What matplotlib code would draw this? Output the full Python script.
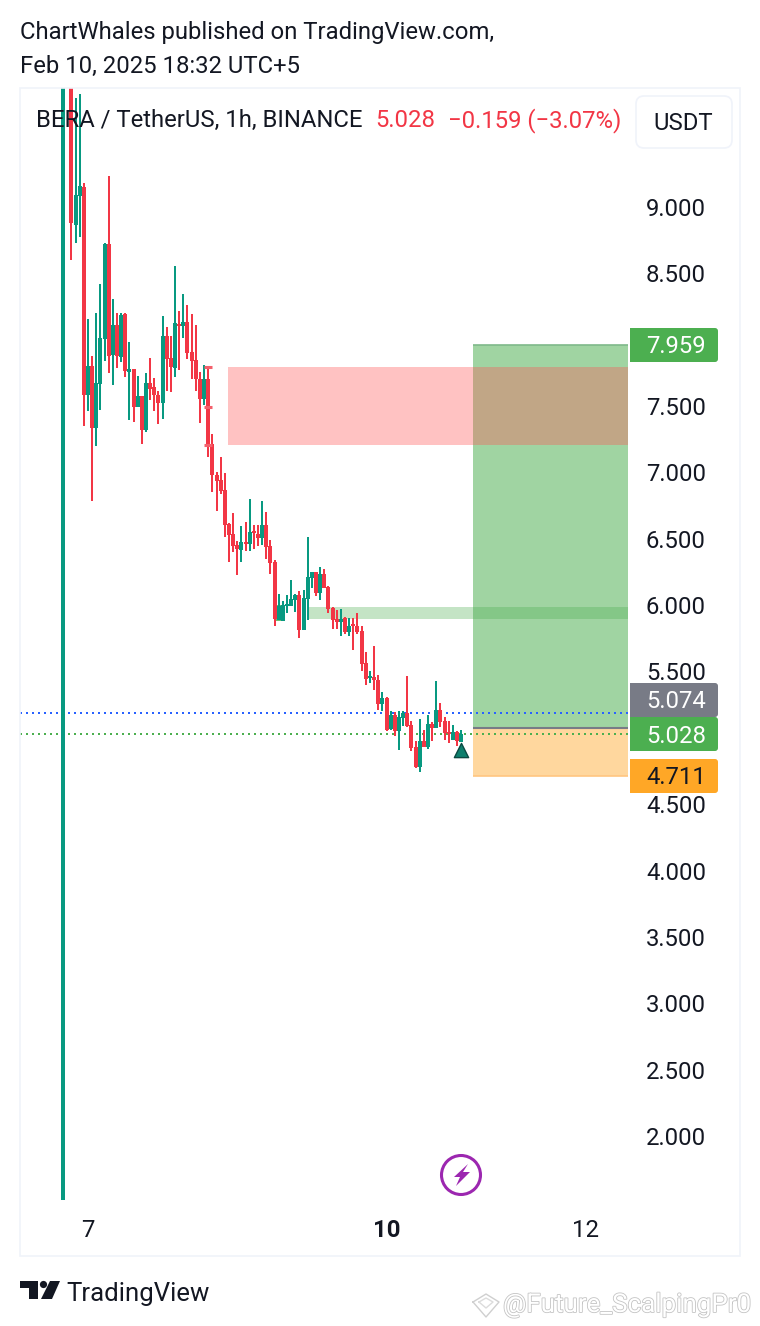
import numpy as np
import matplotlib
matplotlib.use("Agg")
import matplotlib.pyplot as plt
from matplotlib.patches import Rectangle, FancyBboxPatch, Polygon, Circle
import matplotlib.patheffects as pe

plt.rcParams['font.family'] = ['Roboto', 'DejaVu Sans']

nan = float('nan')

# 1h candles, hours counted from Feb 7 00:00
hours = list(range(-6, 91))
opens = [1.52, nan, 10.9, 8.864, 9.083, 9.151, 7.583, 7.802, 7.335, 7.666,
         8.005, 8.721, 7.885, 8.111, 7.870, 8.194, 7.757, 7.779, 7.493, 7.576,
         7.320, 7.674, 7.644, 7.583, 7.523, 8.028, 7.862, 7.787, 8.118, 8.103,
         8.133, 7.907, 7.847, 7.704, 7.553, 7.704, 7.214, 6.980, 6.943, 6.867,
         6.611, 6.536, 6.453, 6.415, 6.476, 6.460, 6.558, 6.536, 6.506, 6.604,
         6.445, 6.325, 5.888, 5.880, 5.993, 5.993, 6.038, 6.076, 5.812, 6.046,
         6.204, 6.249, 6.091, 6.234, 6.136, 5.978, 5.895, 5.873, 5.903, 5.797,
         5.858, 5.842, 5.805, 5.564, 5.451, 5.458, 5.436, 5.255, 5.300, 5.066,
         5.172, 5.051, 5.149, 5.187, 5.097, 4.931, 4.780, 4.976, 4.931, 5.104,
         5.074, 5.209, 5.127, 5.044, 4.983, 5.044, 4.968]
closes = [11.0, nan, 8.879, 9.090, 9.158, 7.583, 7.802, 7.335, 7.674, 8.013,
          8.721, 7.877, 8.111, 7.877, 8.186, 7.764, 7.779, 7.493, 7.576, 7.320,
          7.674, 7.629, 7.583, 7.523, 8.028, 7.855, 7.794, 8.126, 8.103, 8.133,
          7.900, 7.840, 7.704, 7.553, 7.704, 7.206, 6.980, 6.935, 6.860, 6.604,
          6.528, 6.445, 6.423, 6.476, 6.460, 6.551, 6.543, 6.506, 6.604, 6.438,
          6.317, 5.895, 5.993, 6.001, 6.008, 6.046, 6.076, 5.812, 6.053, 6.212,
          6.249, 6.091, 6.234, 6.129, 5.971, 5.888, 5.873, 5.895, 5.797, 5.842,
          5.842, 5.797, 5.556, 5.443, 5.466, 5.436, 5.255, 5.300, 5.059, 5.172,
          5.051, 5.157, 5.187, 5.089, 4.923, 4.780, 4.976, 4.931, 5.104, 5.074,
          5.209, 5.119, 5.036, 5.029, 5.044, 4.976, 5.029]
highs = [11.0, nan, 10.9, 9.821, 9.852, 9.181, 8.156, 7.877, 8.201, 8.420,
         8.729, 9.234, 8.307, 8.201, 8.201, 8.201, 7.983, 7.779, 7.726, 7.576,
         7.749, 7.862, 7.711, 7.613, 8.179, 8.096, 8.028, 8.555, 8.216, 8.344,
         8.262, 8.194, 8.111, 7.757, 7.809, 7.794, 7.289, 7.003, 7.116, 6.995,
         6.619, 6.694, 6.483, 6.596, 6.626, 6.800, 6.604, 6.604, 6.784, 6.702,
         6.491, 6.340, 6.084, 6.031, 6.076, 6.189, 6.084, 6.106, 6.114, 6.513,
         6.249, 6.249, 6.287, 6.272, 6.144, 5.986, 5.963, 5.971, 5.910, 5.903,
         5.903, 5.941, 5.842, 5.647, 5.503, 5.692, 5.473, 5.345, 5.307, 5.202,
         5.194, 5.202, 5.202, 5.466, 5.127, 4.976, 5.142, 5.059, 5.172, 5.119,
         5.428, 5.262, 5.157, 5.127, 5.097, 5.051, 5.059]
lows = [1.52, nan, 8.601, 8.729, 8.774, 7.350, 7.463, 6.784, 7.199, 7.470,
        7.840, 7.749, 7.659, 7.787, 7.832, 7.719, 7.395, 7.380, 7.493, 7.214,
        7.304, 7.546, 7.463, 7.365, 7.402, 7.613, 7.606, 7.719, 7.772, 8.013,
        7.855, 7.704, 7.613, 7.372, 7.508, 7.116, 6.852, 6.709, 6.837, 6.513,
        6.325, 6.400, 6.227, 6.325, 6.408, 6.408, 6.423, 6.445, 6.453, 6.347,
        6.234, 5.842, 5.888, 5.880, 5.941, 5.993, 5.948, 5.752, 5.812, 5.888,
        6.129, 6.069, 6.038, 6.129, 5.941, 5.820, 5.820, 5.767, 5.782, 5.767,
        5.662, 5.782, 5.503, 5.398, 5.413, 5.360, 5.209, 5.202, 5.051, 5.059,
        5.014, 4.908, 5.089, 5.081, 4.900, 4.772, 4.742, 4.931, 4.916, 4.976,
        5.074, 5.081, 4.983, 4.961, 4.983, 4.938, 4.968]

# 5.000 and 8.000 are hidden behind the price labels
price_ticks = [2.0, 2.5, 3.0, 3.5, 4.0, 4.5, 5.5, 6.0, 6.5, 7.0, 7.5, 8.5, 9.0]
time_ticks = [0, 72, 120]
time_labels = ['7', '10', '12']

# drawings on the chart
long_start, long_end = 92.9, 130.2
long_entry, long_target, long_stop = 5.074, 7.959, 4.711
zone_red = (33.8, 130.2, 7.206, 7.794)
zone_green = (53.1, 130.2, 5.895, 5.986)
last_price = 5.028
alert_price = 5.187
short_stubs = [7.794, 7.493, 7.206]

GREEN = '#089981'
RED = '#f23645'
TEXT = '#131722'

fig = plt.figure(figsize=(7.6, 13.26), dpi=100, facecolor='white')

ax = fig.add_axes([20 / 760, 1 - 1200 / 1326, 610 / 760, 1112 / 1326])
ax.set_xlim(-16.4, 130.73)
ax.set_ylim(1.517, 9.897)
for s in ax.spines.values():
    s.set_visible(False)

# long position
ax.add_patch(Rectangle((long_start, long_entry), long_end - long_start, long_target - long_entry,
                       fc='#4caf50', alpha=0.53, lw=0, zorder=1))
ax.add_patch(Rectangle((long_start, long_stop), long_end - long_start, long_entry - long_stop,
                       fc='#ff9800', alpha=0.38, lw=0, zorder=1))
ax.hlines(long_target, long_start, long_end, color='#7fb98a', lw=1.2, zorder=1.5)
ax.hlines(long_stop, long_start, long_end, color='#ffc680', lw=1.2, zorder=1.5)
ax.hlines(long_entry, long_start, long_end, color='#787b86', lw=1.5, zorder=1.5)

# zones
ax.add_patch(Rectangle((zone_red[0], zone_red[2]), zone_red[1] - zone_red[0], zone_red[3] - zone_red[2],
                       fc='#ff5252', alpha=0.35, lw=0, zorder=2))
ax.add_patch(Rectangle((zone_green[0], zone_green[2]), zone_green[1] - zone_green[0], zone_green[3] - zone_green[2],
                       fc='#4caf50', alpha=0.33, lw=0, zorder=2))
ax.hlines([5.888, 5.993], 45.4, 47.2, color='#66bb6a', lw=1.4, zorder=2)
ax.hlines(short_stubs, 28.0, 30.0, color='#f4606c', lw=2.2, zorder=5)

# price lines
ax.axhline(alert_price, color='#2962ff', lw=1.44, ls=(0, (1, 2)), zorder=3)
ax.axhline(last_price, color='#4caf50', lw=1.44, ls=(0, (1, 2)), zorder=3)

# candles
o = np.array(opens)
c = np.array(closes)
colors = [GREEN if b >= a else RED for a, b in zip(o, c)]
ax.vlines(hours, lows, highs, colors=colors, lw=1.44, antialiased=False, zorder=4)
ax.bar(hours, np.abs(c - o), bottom=np.minimum(o, c), width=0.965, color=colors, lw=0,
       antialiased=False, zorder=4)

# signal marker
ax.scatter([90], [4.905], marker='^', s=105, c='#0d7f6d', edgecolors='#0a4a42', linewidths=1, zorder=6)

ax.set_yticks(price_ticks)
ax.set_yticklabels(['%.3f' % p for p in price_ticks])
ax.yaxis.tick_right()
ax.tick_params(axis='y', length=0, pad=11.5, labelsize=17.2, labelcolor=TEXT)
ax.set_xticks(time_ticks)
ax.set_xticklabels(time_labels)
ax.tick_params(axis='x', length=0, pad=14, labelsize=17.2, labelcolor=TEXT)
ax.get_xticklabels()[1].set_fontweight('bold')

# overlay in pixel units for frame, header, labels and logos
ov = fig.add_axes([0, 0, 1, 1], zorder=10)
ov.set_xlim(0, 760)
ov.set_ylim(1326, 0)
ov.axis('off')
ov.patch.set_alpha(0)

ov.add_patch(Rectangle((20, 88), 720, 1168, fc='none', ec='#f0f3fa', lw=1.2))

ov.text(20, 33, 'ChartWhales published on TradingView.com,', fontsize=17.2, color=TEXT, va='center')
ov.text(20, 66.5, 'Feb 10, 2025 18:32 UTC+5', fontsize=17.2, color=TEXT, va='center')
ov.text(36, 120.5, 'BERA / TetherUS, 1h, BINANCE', fontsize=17.2, color=TEXT, va='center')
ov.text(375.5, 120.5, '5.028', fontsize=17.2, color=RED, va='center')
ov.text(448, 120.5, '\u22120.159 (\u22123.07%)', fontsize=17.2, color=RED, va='center')

ov.add_patch(FancyBboxPatch((636, 96), 96, 52, boxstyle='round,pad=0,rounding_size=8',
                            fc='white', ec='#f0f3fa', lw=1.2))
ov.text(683.5, 123.5, 'USDT', fontsize=17.2, color=TEXT, ha='center', va='center')

for txt, top, bottom, bg, fg, dy in [('7.959', 328, 362, '#4caf50', 'white', 1.5),
                                     ('5.074', 683, 717, '#787b86', 'white', 1.5),
                                     ('5.028', 717, 751, '#4caf50', 'white', 2.5),
                                     ('4.711', 759, 793, '#ffa726', TEXT, 2.0)]:
    ov.add_patch(FancyBboxPatch((630, top), 88, bottom - top, boxstyle='round,pad=0,rounding_size=3',
                                fc=bg, ec='none'))
    ov.add_patch(Rectangle((630, top), 8, bottom - top, fc=bg, ec='none'))
    ov.text(676, (top + bottom) / 2 + dy, txt, fontsize=17.2, color=fg, ha='center', va='center')

# lightning badge
ov.add_patch(Circle((461, 1175), 19.5, fc='white', ec='#9c27b0', lw=2.2))
ov.add_patch(Polygon([[468, 1164], [454, 1177], [460, 1177], [456, 1186], [470, 1172], [463, 1172]],
                     closed=True, fc='#9c27b0', ec='none'))

# TradingView logo
ov.add_patch(Polygon([[20, 1281], [38, 1281], [38, 1299], [29, 1299], [29, 1288], [20, 1288]],
                     closed=True, fc=TEXT, ec='none'))
ov.add_patch(Circle((43.5, 1284.5), 3.6, fc=TEXT, ec='none'))
ov.add_patch(Polygon([[50, 1281], [60, 1281], [52, 1299], [41, 1299]], closed=True, fc=TEXT, ec='none'))
ov.text(66, 1293.5, 'TradingView', fontsize=18.5, color=TEXT, va='center')

# watermark
ov.text(503, 1305, '@Future_ScalpingPr0', fontsize=18.7, color='white', va='center',
        path_effects=[pe.withStroke(linewidth=1.2, foreground='#c4c4c4')])
ov.plot([473, 486, 499, 486, 473], [1302, 1294, 1302, 1317, 1302], color='#cfcfcf', lw=1)
ov.plot([479, 486, 493, 486, 479], [1302, 1298, 1302, 1308, 1302], color='#dcdcdc', lw=1)

fig.savefig('out.png', dpi=100)
